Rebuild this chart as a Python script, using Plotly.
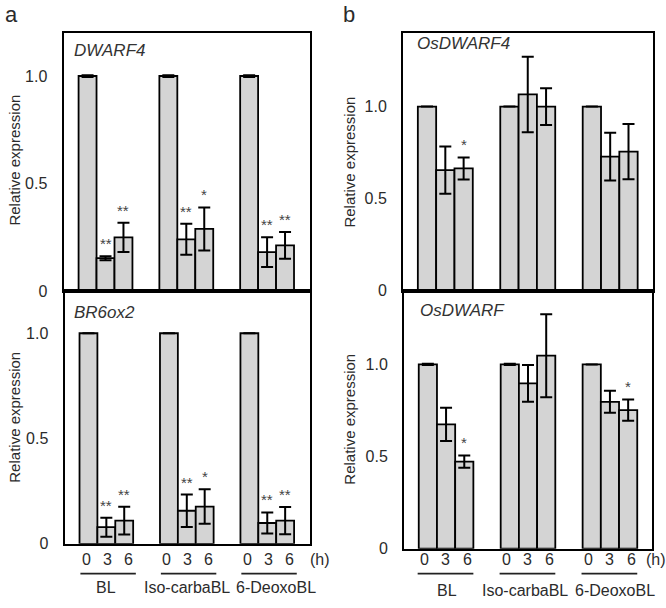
import plotly.graph_objects as go

W, H = 666, 608

# ---------------- data ----------------
groups = ["BL", "Iso-carbaBL", "6-DeoxoBL"]
hours = ["0", "3", "6"]

dwarf4_vals = [1.0, 0.153, 0.25, 1.0, 0.241, 0.289, 1.0, 0.181, 0.213]
dwarf4_err = [0.004, 0.009, 0.068, 0.004, 0.072, 0.100, 0.004, 0.069, 0.062]
dwarf4_sig = ["", "**", "**", "", "**", "*", "", "**", "**"]

br6ox2_vals = [1.0, 0.079, 0.110, 1.0, 0.157, 0.177, 1.0, 0.099, 0.110]
br6ox2_err = [0.0, 0.045, 0.066, 0.0, 0.077, 0.082, 0.0, 0.050, 0.065]
br6ox2_sig = ["", "**", "**", "", "**", "*", "", "**", "**"]

osdwarf4_vals = [1.0, 0.655, 0.664, 1.0, 1.066, 1.0, 1.0, 0.728, 0.755]
osdwarf4_err = [0.0, 0.128, 0.060, 0.0, 0.205, 0.100, 0.0, 0.130, 0.150]
osdwarf4_sig = ["", "", "*", "", "", "", "", "", ""]

osdwarf_vals = [1.0, 0.675, 0.473, 1.0, 0.897, 1.047, 1.0, 0.797, 0.752]
osdwarf_err = [0.003, 0.090, 0.033, 0.003, 0.100, 0.225, 0.0, 0.060, 0.058]
osdwarf_sig = ["", "", "*", "", "", "", "", "", "*"]

# bar positions (three groups of three time points)
group_starts = [0, 4.5, 9]
xpos = [g + i for g in group_starts for i in range(3)]

BAR_FILL = "#d4d4d4"
TXT = "#2b2b2b"
FONT = "Liberation Sans, Arial, sans-serif"


def xd(a, b):
    return [a / W, b / W]


def yd(top, bottom):
    return [1 - bottom / H, 1 - top / H]


def py(p):
    return 1 - p / H


def px(p):
    return p / W


fig = go.Figure()

panels = [
    (dwarf4_vals, dwarf4_err, dwarf4_sig, "DWARF4", "x", "y"),
    (br6ox2_vals, br6ox2_err, br6ox2_sig, "BR6ox2", "x2", "y2"),
    (osdwarf4_vals, osdwarf4_err, osdwarf4_sig, "OsDWARF4", "x3", "y3"),
    (osdwarf_vals, osdwarf_err, osdwarf_sig, "OsDWARF", "x4", "y4"),
]

annotations = []
shapes = []

for vals, err, sig, name, xa, ya in panels:
    fig.add_trace(go.Bar(
        x=xpos, y=vals, width=1,
        marker=dict(color=BAR_FILL, line=dict(color="black", width=1.8)),
        error_y=dict(type="data", array=err, visible=True, color="black",
                     thickness=2, width=6),
        xaxis=xa, yaxis=ya, showlegend=False, hoverinfo="skip",
    ))
    for x, v, e, s in zip(xpos, vals, err, sig):
        if s:
            annotations.append(dict(
                x=x, y=v + e, xref=xa, yref=ya, text=s, showarrow=False,
                yanchor="bottom", yshift=2,
                font=dict(size=15, color="#444", family=FONT)))


def xax(domain, rng, anchor):
    return dict(domain=domain, range=rng, anchor=anchor, showline=True, mirror=True,
                linecolor="black", linewidth=2, showgrid=False, zeroline=False,
                showticklabels=False, ticks="", fixedrange=True)


def yax(domain, rng, anchor):
    return dict(domain=domain, range=rng, anchor=anchor, showline=True, mirror=True,
                linecolor="black", linewidth=2, showgrid=False, zeroline=False,
                tickvals=[0, 0.5, 1.0], ticktext=["0", "0.5", "1.0"],
                ticks="outside", ticklen=11, tickcolor="rgba(0,0,0,0)",
                tickfont=dict(size=16, color=TXT, family=FONT), fixedrange=True)


xa_rng = [-1.34, 12.39]
xb_rng = [-1.31, 12.31]

fig.update_layout(
    width=W, height=H, autosize=False,
    margin=dict(l=0, r=0, t=0, b=0),
    paper_bgcolor="white", plot_bgcolor="white",
    bargap=0,
    xaxis=xax(xd(63.5, 310), xa_rng, "y"),
    yaxis=yax(yd(33.5, 295.5), [0, 1.2], "x"),
    xaxis2=xax(xd(64.5, 310), xa_rng, "y2"),
    yaxis2=yax(yd(295.5, 552), [0, 1.2], "x2"),
    xaxis3=xax(xd(403, 652.5), xb_rng, "y3"),
    yaxis3=yax(yd(33.5, 295), [0, 1.4], "x3"),
    xaxis4=xax(xd(404, 652), xb_rng, "y4"),
    yaxis4=yax(yd(295, 557), [0, 1.4], "x4"),
)

gene_pos = [("DWARF4", 72, 51), ("BR6ox2", 72, 317),
            ("OsDWARF4", 415, 44), ("OsDWARF", 418, 315)]
for name, gx, gy in gene_pos:
    annotations.append(dict(x=px(gx), y=py(gy), xref="paper", yref="paper",
                            text=f"<i>{name}</i>", showarrow=False,
                            xanchor="left", yanchor="middle",
                            font=dict(size=17, color="#333", family=FONT)))

for tx, ty in [(15, 163), (15, 424), (350, 165), (350, 426)]:
    annotations.append(dict(x=px(tx), y=py(ty), xref="paper", yref="paper",
                            text="Relative expression", textangle=-90,
                            showarrow=False, xanchor="center", yanchor="middle",
                            font=dict(size=15, color=TXT, family=FONT)))

for letter, lx, ly in [("a", 11, 15), ("b", 349, 15)]:
    annotations.append(dict(x=px(lx), y=py(ly), xref="paper", yref="paper",
                            text=letter, showarrow=False, xanchor="center",
                            yanchor="middle",
                            font=dict(size=22, color=TXT, family=FONT)))

bottom_specs = [
    ("x2", 568, 582.3, 596, 1.05, 1.17, -0.45, 2.65, [0.97, 0.99, 1.5], 320),
    ("x4", 568.3, 582.3, 599, 0.98, 1.18, -0.56, 2.5, [1.07, 0.83, 1.3], 656),
]
for xa, tly, uly, gly, tco, tstep, u0, u1, goffs, hx in bottom_specs:
    for gi, g in enumerate(group_starts):
        for i, h in enumerate(hours):
            annotations.append(dict(x=g + tco + (i - 1) * tstep, y=py(tly),
                                    xref=xa, yref="paper", text=h, showarrow=False,
                                    xanchor="center", yanchor="middle",
                                    font=dict(size=16, color=TXT, family=FONT)))
        shapes.append(dict(type="line", xref=xa, yref="paper",
                           x0=g + u0, x1=g + u1, y0=py(uly), y1=py(uly),
                           line=dict(color="#222", width=1.8)))
        annotations.append(dict(x=g + goffs[gi], y=py(gly), xref=xa, yref="paper",
                                text=groups[gi], showarrow=False,
                                xanchor="center", yanchor="middle",
                                font=dict(size=16, color=TXT, family=FONT)))
    annotations.append(dict(x=px(hx), y=py(tly), xref="paper", yref="paper",
                            text="(h)", showarrow=False, xanchor="center",
                            yanchor="middle",
                            font=dict(size=16, color=TXT, family=FONT)))

fig.update_layout(annotations=annotations, shapes=shapes)

fig.write_html("out.html",
               config={"displayModeBar": False, "staticPlot": True},
               post_script="document.body.style.margin='0';"
                           "document.body.style.overflow='hidden';")
